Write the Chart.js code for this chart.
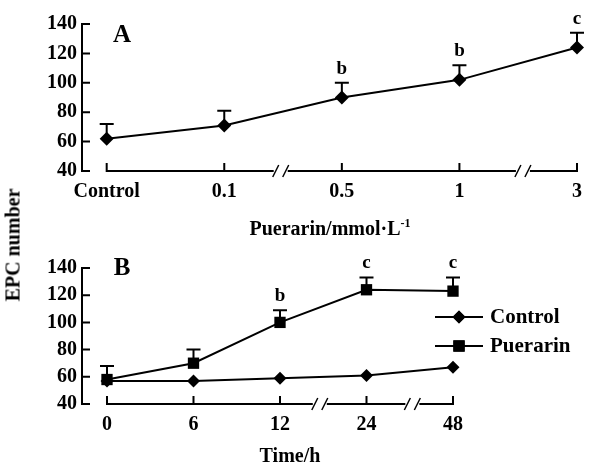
<!DOCTYPE html>
<html>
<head>
<meta charset="utf-8">
<script src="https://cdn.jsdelivr.net/npm/chart.js@4.4.0/dist/chart.umd.min.js"></script>
<style>
body { margin: 0; background: #fff; }
#wrap { position: relative; width: 591px; height: 470px; font-family: "Liberation Serif", serif; font-weight: bold; color: #000; }
canvas { position: absolute; left: 0; }
#cA { top: 0; }
#cB { top: 240px; }
.t { position: absolute; font-size: 20px; white-space: nowrap; }
.t sup { font-size: 12px; }
</style>
</head>
<body>
<div id="wrap">
    <canvas id="cA" width="591" height="240"></canvas>
    <canvas id="cB" width="591" height="230"></canvas>
    <div class="t" id="yTitle" style="left:13px;top:245px;transform:translate(-50%,-50%) rotate(-90deg);">EPC number</div>
    <div class="t" style="left:330px;top:228px;transform:translate(-50%,-50%);">Puerarin/mmol·L<sup>-1</sup></div>
    <div class="t" style="left:290px;top:455px;transform:translate(-50%,-50%);">Time/h</div>
</div>

<script>
// DATA PART

var catsA = ['Control', '0.1', '0.5', '1', '3'];
var valsA = [62, 71, 90, 102, 124];
var errA = [72, 81, 100, 112, 134];
var sigA = ['', '', 'b', 'b', 'c'];

var catsB = ['0', '6', '12', '24', '48'];
var ctrlB = [57, 57, 59, 61, 67];
var puerB = [58, 70, 100, 124, 123];
var errB = [68, 80, 109, 133, 133];
var sigB = ['', '', 'b', 'c', 'c'];

var yTicks = [40, 60, 80, 100, 120, 140];

var FONT = '"Liberation Serif", serif';

// HELPERS

function pts(arr){
    return arr.map((v, i) => ({x: i, y: v}));
}

function drawBreak(ctx, cx, y){
    ctx.save();
    ctx.fillStyle = '#fff';
    ctx.fillRect(cx - 7, y - 3, 14, 6);
    ctx.strokeStyle = '#000';
    ctx.lineWidth = 1.5;
    [-5, 5].forEach(d => {
        ctx.beginPath();
        ctx.moveTo(cx + d - 3, y + 6);
        ctx.lineTo(cx + d + 3, y - 6);
        ctx.stroke();
    });
    ctx.restore();
}

// draws axes, error bars, letters and legend for one panel
var decoPlugin = {
    id: 'deco',
    beforeDatasetsDraw(chart){
        var o = chart.options.plugins.deco;
        var ctx = chart.ctx;
        var xs = chart.scales.x, ys = chart.scales.y;
        var area = chart.chartArea;
        var yb = ys.getPixelForValue(40);
        var yt = ys.getPixelForValue(140);

        ctx.save();
        ctx.strokeStyle = '#000';
        ctx.lineWidth = 2;

        // y axis with inward ticks
        ctx.beginPath();
        ctx.moveTo(area.left, yt - 1);
        ctx.lineTo(area.left, yb + 1);
        yTicks.forEach(v => {
            var y = ys.getPixelForValue(v);
            ctx.moveTo(area.left, y);
            ctx.lineTo(area.left + 8, y);
        });
        ctx.stroke();

        // x axis from first to last category, ticks pointing up
        ctx.beginPath();
        ctx.moveTo(xs.getPixelForValue(0), yb);
        ctx.lineTo(xs.getPixelForValue(o.cats.length - 1), yb);
        o.cats.forEach((c, i) => {
            var x = xs.getPixelForValue(i);
            ctx.moveTo(x, yb + 1);
            ctx.lineTo(x, yb - 8);
        });
        ctx.stroke();
        o.breaks.forEach(b => drawBreak(ctx, xs.getPixelForValue(b), yb));

        // upper error bars
        o.err.forEach((e, i) => {
            var x = xs.getPixelForValue(i);
            var y0 = ys.getPixelForValue(o.base[i]);
            var y1 = ys.getPixelForValue(e);
            ctx.beginPath();
            ctx.moveTo(x, y0);
            ctx.lineTo(x, y1);
            ctx.moveTo(x - 7, y1);
            ctx.lineTo(x + 7, y1);
            ctx.stroke();
        });
        ctx.restore();
    },
    afterDraw(chart){
        var o = chart.options.plugins.deco;
        var ctx = chart.ctx;
        var xs = chart.scales.x, ys = chart.scales.y;

        ctx.save();
        ctx.fillStyle = '#000';
        ctx.textAlign = 'center';
        ctx.textBaseline = 'middle';

        ctx.font = 'bold 19px ' + FONT;
        o.sig.forEach((s, i) => {
            if(s !== ''){
                ctx.fillText(s, xs.getPixelForValue(i), ys.getPixelForValue(o.err[i]) - 14);
            }
        });

        ctx.font = 'bold 25px ' + FONT;
        ctx.fillText(o.letter[0], o.letter[1], o.letter[2]);

        if(o.legend){
            o.legend.forEach(l => {
                ctx.strokeStyle = '#000';
                ctx.lineWidth = 2;
                ctx.beginPath();
                ctx.moveTo(435, l.y);
                ctx.lineTo(483, l.y);
                ctx.stroke();
                Chart.helpers.drawPoint(ctx, {pointStyle: l.style, radius: l.r, borderWidth: 0}, 459, l.y);
                ctx.fill();
                ctx.font = 'bold 21px ' + FONT;
                ctx.textAlign = 'left';
                ctx.fillText(l.text, 490, l.y + 1);
            });
        }
        ctx.restore();
    }
};

function makePanel(id, cats, datasets, deco, box){
    var canvas = document.getElementById(id);
    return new Chart(canvas, {
        type: 'line',
        data: { datasets: datasets },
        plugins: [decoPlugin],
        options: {
            responsive: false,
            animation: false,
            devicePixelRatio: 1,
            layout: { padding: { left: 0, top: box.top, right: 591 - box.right, bottom: 0 } },
            plugins: {
                legend: { display: false },
                tooltip: { enabled: false },
                deco: deco
            },
            scales: {
                x: {
                    type: 'linear',
                    min: box.xmin,
                    max: cats.length - 1,
                    grid: { display: false, drawTicks: false },
                    border: { display: false },
                    afterBuildTicks: (s) => { s.ticks = cats.map((c, i) => ({value: i})); },
                    afterFit: (s) => { s.height = canvas.height - box.bottom; },
                    ticks: {
                        padding: 9,
                        color: '#000',
                        font: { family: FONT, size: 20, weight: 'bold' },
                        maxRotation: 0,
                        autoSkip: false,
                        callback: (v) => cats[v]
                    }
                },
                y: {
                    min: 40,
                    max: 140,
                    grid: { display: false, drawTicks: false },
                    border: { display: false },
                    afterFit: (s) => { s.width = box.left; },
                    ticks: {
                        stepSize: 20,
                        padding: 5,
                        color: '#000',
                        font: { family: FONT, size: 20, weight: 'bold' }
                    }
                }
            }
        }
    });
}

function lineSet(label, arr, style, r){
    return {
        label: label,
        data: pts(arr),
        borderColor: '#000',
        backgroundColor: '#000',
        borderWidth: 2,
        pointStyle: style,
        pointRadius: r,
        pointBorderWidth: 0,
        pointBackgroundColor: '#000',
        tension: 0,
        clip: false
    };
}

// PANEL A

makePanel('cA', catsA,
    [lineSet('EPC', valsA, 'rectRot', 7)],
    { cats: catsA, base: valsA, err: errA, sig: sigA, breaks: [1.48, 3.54], letter: ['A', 122, 36] },
    { left: 82, right: 582, top: 24, bottom: 171, xmin: -0.21 }
);

// PANEL B

makePanel('cB', catsB,
    [lineSet('Control', ctrlB, 'rectRot', 6.5), lineSet('Puerarin', puerB, 'rect', 8)],
    { cats: catsB, base: puerB, err: errB, sig: sigB, breaks: [2.46, 3.53], letter: ['B', 122, 29],
      legend: [
          { text: 'Control', style: 'rectRot', r: 6.5, y: 77 },
          { text: 'Puerarin', style: 'rect', r: 8, y: 106 }
      ] },
    { left: 82, right: 453, top: 28, bottom: 164, xmin: -0.289 }
);
</script>
</body>
</html>
